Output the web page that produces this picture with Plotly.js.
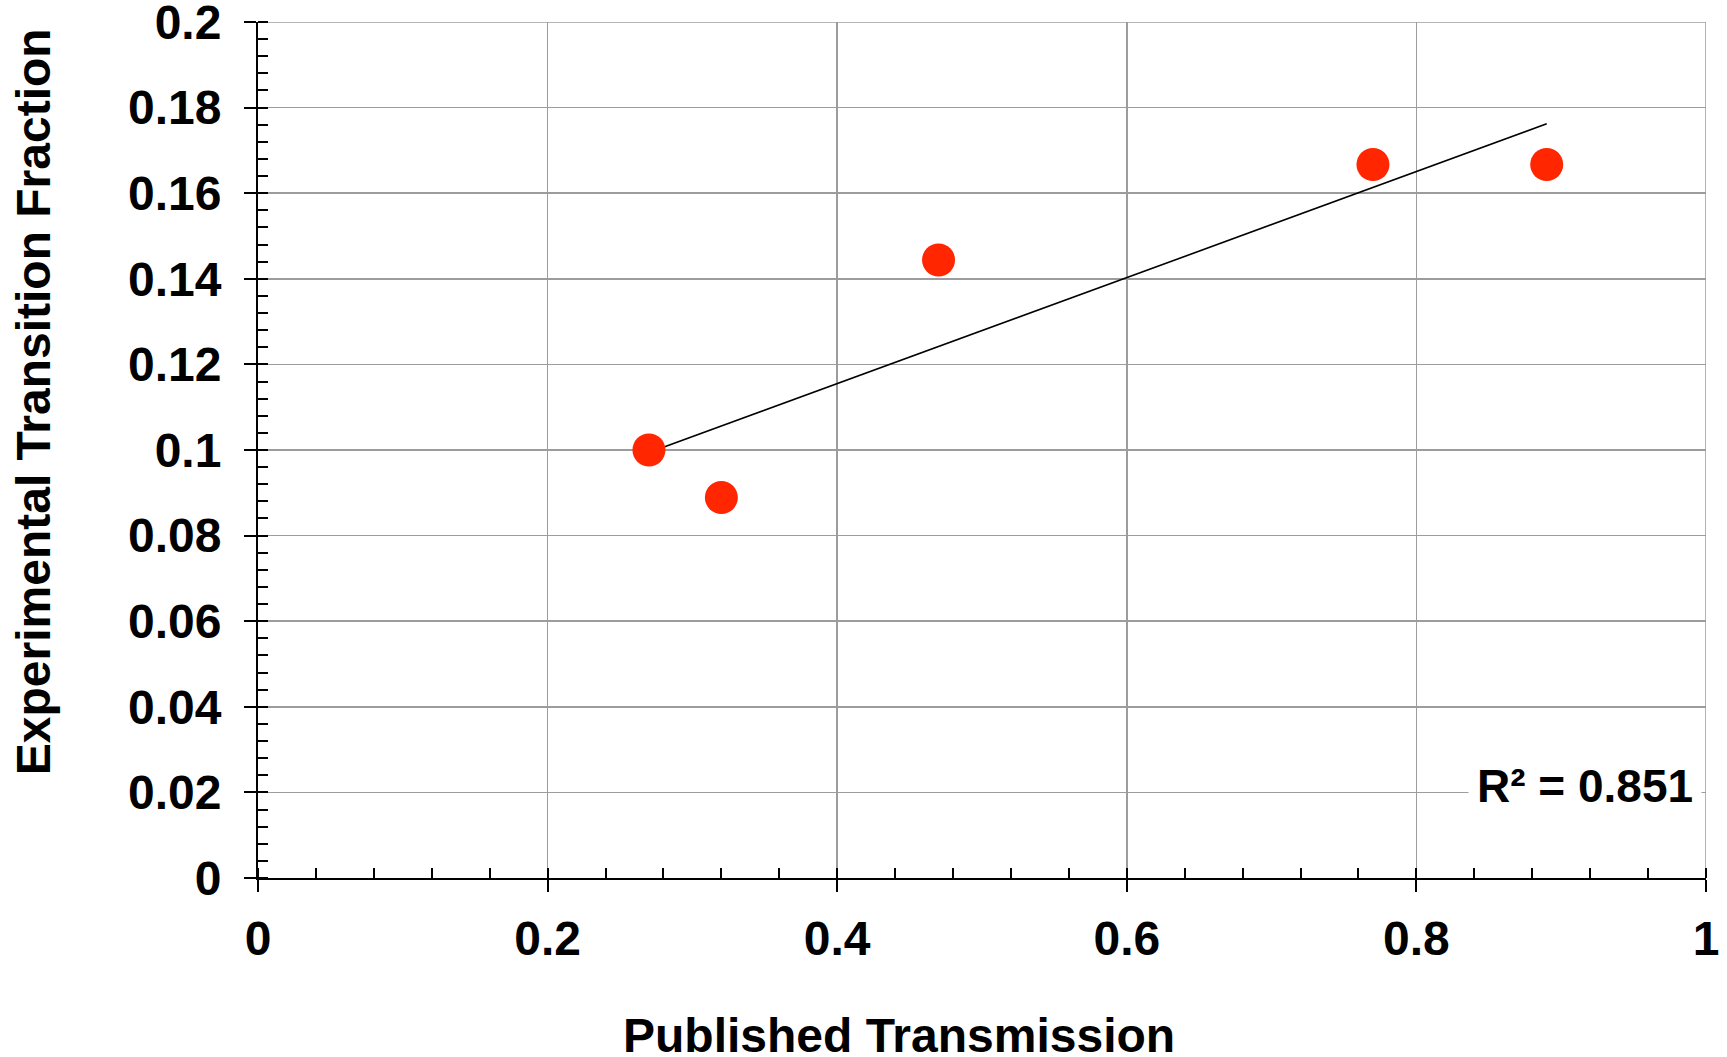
<!DOCTYPE html>
<html>
<head>
<meta charset="utf-8">
<script src="https://cdn.plot.ly/plotly-3.0.1.min.js"></script>
<style>
html,body{margin:0;padding:0;background:#fff;}
#chart{width:1727px;height:1057px;}
</style>
</head>
<body>
<div id="chart"></div>
<script>
// Data
const publishedTransmission = [0.27, 0.32, 0.47, 0.77, 0.89];
const transitionFraction = [0.100, 0.0889, 0.1444, 0.1667, 0.1667];
const xTitle = 'Published Transmission';
const yTitle = 'Experimental Transition Fraction';
const xTickVals = [0, 0.2, 0.4, 0.6, 0.8, 1];
const xTickText = ['0', '0.2', '0.4', '0.6', '0.8', '1'];
const yTickVals = [0, 0.02, 0.04, 0.06, 0.08, 0.1, 0.12, 0.14, 0.16, 0.18, 0.2];
const yTickText = ['0', '0.02', '0.04', '0.06', '0.08', '0.1', '0.12', '0.14', '0.16', '0.18', '0.2'];

// Linear trendline (least squares) from the data
const n = publishedTransmission.length;
const mx = publishedTransmission.reduce((a, b) => a + b, 0) / n;
const my = transitionFraction.reduce((a, b) => a + b, 0) / n;
let sxx = 0, sxy = 0, syy = 0;
for (let i = 0; i < n; i++) {
  const dx = publishedTransmission[i] - mx, dy = transitionFraction[i] - my;
  sxx += dx * dx; sxy += dx * dy; syy += dy * dy;
}
const slope = sxy / sxx, intercept = my - slope * mx;
const r2 = (sxy * sxy) / (sxx * syy);
const xMin = Math.min(...publishedTransmission), xMax = Math.max(...publishedTransmission);
const trendX = [xMin, xMax];
const trendY = trendX.map(v => intercept + slope * v);

const FONT = 'Liberation Sans, Arial, Helvetica, sans-serif';
const xRange = [0, 1.00001];
const yRange = [0, 0.200002];
const GRID = '#9c9c9c';

const traces = [
  {
    x: trendX, y: trendY, type: 'scatter', mode: 'lines',
    line: {color: '#000000', width: 1.6}, hoverinfo: 'skip', showlegend: false
  },
  {
    x: publishedTransmission, y: transitionFraction, type: 'scatter', mode: 'markers',
    marker: {color: '#ff2600', size: 33, line: {width: 0}}, showlegend: false
  },
  {
    x: [], y: [], xaxis: 'x2', yaxis: 'y2', type: 'scatter', mode: 'markers', showlegend: false
  }
];

const tickFont = {family: FONT, size: 48, color: '#000', weight: 'bold'};

const layout = {
  width: 1727, height: 1057,
  paper_bgcolor: '#ffffff', plot_bgcolor: '#ffffff',
  margin: {l: 257.5, r: 20.5, t: 22.3, b: 178.7},
  showlegend: false,
  xaxis: {
    range: xRange, tickmode: 'array', tickvals: xTickVals, ticktext: xTickText,
    showline: true, linecolor: '#000', linewidth: 2,
    zeroline: false,
    showgrid: true, gridcolor: GRID, gridwidth: 1.5,
    ticks: 'outside', ticklen: 12, tickwidth: 2, tickcolor: '#000',
    minor: {dtick: 0.04, tick0: 0, ticks: 'inside', ticklen: 10, tickwidth: 2, tickcolor: '#000', showgrid: false},
    tickfont: tickFont, ticklabelstandoff: 5, ticklabeloverflow: 'allow',
    fixedrange: true
  },
  yaxis: {
    range: yRange, tickmode: 'array', tickvals: yTickVals, ticktext: yTickText,
    showline: true, linecolor: '#000', linewidth: 2,
    zeroline: false,
    showgrid: true, gridcolor: GRID, gridwidth: 1.5,
    ticks: 'outside', ticklen: 12, tickwidth: 2, tickcolor: '#000',
    minor: {dtick: 0.004, tick0: 0, ticks: 'inside', ticklen: 10, tickwidth: 2, tickcolor: '#000', showgrid: false},
    tickfont: tickFont, ticklabelstandoff: 13, ticklabeloverflow: 'allow',
    fixedrange: true
  },
  xaxis2: {
    overlaying: 'x', anchor: 'y2', side: 'bottom', range: xRange, tickmode: 'array', tickvals: xTickVals,
    showline: false, zeroline: false, showgrid: false, showticklabels: false,
    ticks: 'inside', ticklen: 10, tickwidth: 2, tickcolor: '#000', fixedrange: true
  },
  yaxis2: {
    overlaying: 'y', anchor: 'x2', side: 'left', range: yRange, tickmode: 'array', tickvals: yTickVals,
    showline: false, zeroline: false, showgrid: false, showticklabels: false,
    ticks: 'inside', ticklen: 10, tickwidth: 2, tickcolor: '#000', fixedrange: true
  },
  shapes: [
    // grid lines at the far ends of the axes (Plotly drops them at the range edge)
    {type: 'line', layer: 'below', xref: 'paper', yref: 'y', x0: 0, x1: 1,
     y0: yTickVals[yTickVals.length - 1], y1: yTickVals[yTickVals.length - 1],
     line: {color: GRID, width: 1.5}},
    {type: 'line', layer: 'below', xref: 'x', yref: 'paper', y0: 0, y1: 1,
     x0: xTickVals[xTickVals.length - 1], x1: xTickVals[xTickVals.length - 1],
     line: {color: GRID, width: 1.5}}
  ],
  annotations: [
    {
      xref: 'paper', yref: 'paper', x: 0.4425, y: -0.1835, xanchor: 'center', yanchor: 'middle',
      text: xTitle, showarrow: false, height: 46, valign: 'middle',
      font: {family: FONT, size: 48, color: '#000', weight: 'bold'}
    },
    {
      xref: 'paper', yref: 'paper', x: -0.155, y: 0.5565, xanchor: 'center', yanchor: 'middle',
      text: yTitle, showarrow: false, textangle: -90,
      font: {family: FONT, size: 48, color: '#000', weight: 'bold'}
    },
    {
      xref: 'paper', yref: 'y', x: 0.997, y: 0.0215, xanchor: 'right', yanchor: 'middle',
      text: 'R² = ' + r2.toFixed(3), showarrow: false,
      bgcolor: '#ffffff', borderpad: 8,
      font: {family: FONT, size: 46, color: '#000', weight: 'bold'}
    }
  ]
};

Plotly.newPlot('chart', traces, layout, {displayModeBar: false, staticPlot: true});
</script>
</body>
</html>
